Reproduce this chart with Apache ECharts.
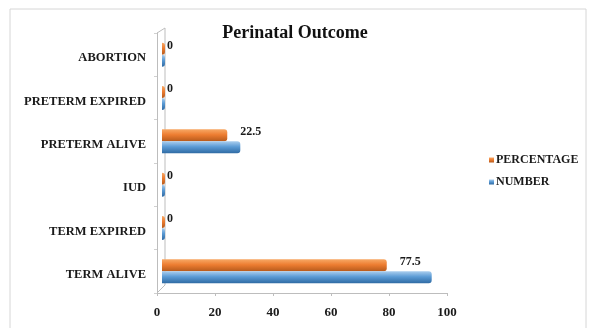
<!DOCTYPE html>
<html>
<head>
<meta charset="utf-8">
<script src="https://cdn.jsdelivr.net/npm/echarts@6/dist/echarts.min.js"></script>
<style>
  html, body { margin: 0; padding: 0; background: #fff; }
  #chart { width: 590px; height: 328px; }
</style>
</head>
<body>
<div id="chart"></div>
<script>
// Perinatal outcome: count and share of each outcome
const categories = ['TERM ALIVE', 'TERM EXPIRED', 'IUD', 'PRETERM ALIVE', 'PRETERM EXPIRED', 'ABORTION'];
const percentageValues = [77.5, 0, 0, 22.5, 0, 0];
const numberValues = [93, 0, 0, 27, 0, 0];
const seriesNames = ['PERCENTAGE', 'NUMBER'];
const axisMin = 0;
const axisMax = 100;
const axisStep = 20;

// layout
const G = { left: 157, right: 143, top: 33, bottom: 35 };
const DEPTH = 8;          // depth of the back wall
const BAR_SHIFT = 5;      // bars sit part-way into the depth
const SERIF = '"Liberation Serif", "Times New Roman", serif';

function grad(light, mid, dark) {
  return new echarts.graphic.LinearGradient(0, 0, 0, 1, [
    { offset: 0, color: light },
    { offset: 0.45, color: mid },
    { offset: 1, color: dark }
  ]);
}

// zero-length stubs keep their label close; real bars leave more room
const percentageData = percentageValues.map(v => ({
  value: v,
  label: { distance: v === 0 ? 2 : 13 }
}));

const chart = echarts.init(document.getElementById('chart'), null, { renderer: 'canvas' });

const option = {
  animation: false,
  backgroundColor: '#fff',
  title: {
    text: 'Perinatal Outcome',
    left: 'center',
    top: 19,
    textStyle: { fontFamily: SERIF, fontWeight: 'bold', fontSize: 18, color: '#111' }
  },
  legend: {
    orient: 'vertical',
    left: 484,
    top: 149,
    itemWidth: 5,
    itemHeight: 5,
    itemGap: 10,
    icon: 'rect',
    data: seriesNames,
    textStyle: { fontFamily: SERIF, fontWeight: 'bold', fontSize: 12, color: '#1a1a1a', padding: [0, 0, 0, -3] }
  },
  grid: [
    { left: G.left, right: G.right, top: G.top, bottom: G.bottom },
    { left: G.left + BAR_SHIFT, right: G.right - BAR_SHIFT, top: G.top, bottom: G.bottom }
  ],
  xAxis: [
    {
      gridIndex: 0, type: 'value', min: axisMin, max: axisMax, interval: axisStep,
      axisLine: { show: true, lineStyle: { color: '#bdbdbd', width: 1 } },
      axisTick: { show: true, length: 3, lineStyle: { color: '#bdbdbd' } },
      splitLine: { show: false },
      axisLabel: { fontFamily: SERIF, fontWeight: 'bold', fontSize: 13, color: '#1a1a1a', margin: 13 }
    },
    {
      gridIndex: 1, type: 'value', min: axisMin, max: axisMax, interval: axisStep, show: false
    }
  ],
  yAxis: [
    {
      gridIndex: 0, type: 'category', data: categories,
      axisLine: { show: true, lineStyle: { color: '#bdbdbd', width: 1 } },
      axisTick: { show: true, length: 3, lineStyle: { color: '#d0d0d0' } },
      axisLabel: {
        fontFamily: SERIF, fontWeight: 'bold', fontSize: 12.5, color: '#1a1a1a', margin: 11,
        verticalAlign: 'top',
        lineHeight: 7
      }
    },
    {
      gridIndex: 1, type: 'category', data: categories, show: false
    }
  ],
  series: [
    {
      name: 'PERCENTAGE',
      type: 'bar',
      xAxisIndex: 1, yAxisIndex: 1,
      data: percentageData,
      barWidth: 12,
      barGap: '0%',
      barMinHeight: 3,
      itemStyle: {
        color: grad('#f7a865', '#ed7d31', '#b65a1c'),
        borderRadius: [0, 3, 3, 0]
      },
      label: {
        show: true,
        position: 'right',
        offset: [0, -3],
        fontFamily: SERIF, fontWeight: 'bold', fontSize: 12, color: '#1a1a1a'
      }
    },
    {
      name: 'NUMBER',
      type: 'bar',
      xAxisIndex: 1, yAxisIndex: 1,
      data: numberValues,
      barWidth: 12,
      barGap: '0%',
      barMinHeight: 3,
      itemStyle: {
        color: grad('#a9cdee', '#5b9bd5', '#2f6aa3'),
        borderRadius: [0, 3, 3, 0]
      }
    }
  ],
  color: ['#ed7d31', '#5b9bd5']
};

chart.setOption(option);

// back wall and floor edges of the 3D frame
const x0 = chart.convertToPixel({ xAxisIndex: 0 }, axisMin);
const yTop = G.top;
const yBot = 328 - G.bottom;
chart.setOption({
  graphic: [
    {
      type: 'rect', silent: true, z: -10,
      shape: { x: 10, y: 9, width: 576, height: 340 },
      style: { fill: 'none', stroke: '#d6d6d6', lineWidth: 1 }
    },
    {
      type: 'polyline', silent: true,
      shape: { points: [[x0, yTop], [x0 + DEPTH, yTop - 5], [x0 + DEPTH, yBot - 8], [x0, yBot]] },
      style: { fill: 'none', stroke: '#bdbdbd', lineWidth: 1 }
    }
  ]
});
</script>
</body>
</html>
